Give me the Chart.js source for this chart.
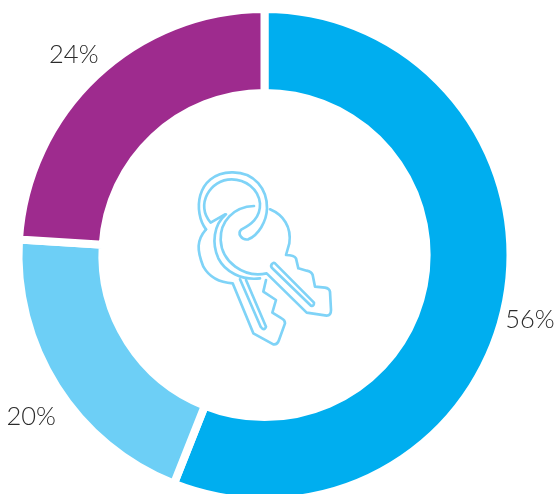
<!DOCTYPE html>
<html>
<head>
<meta charset="utf-8">
<title>Keys</title>
<script src="https://cdn.jsdelivr.net/npm/chart.js@4"></script>
<style>
    html, body { margin: 0; padding: 0; background: #fff; overflow: hidden; }
    #wrap { position: relative; width: 557px; height: 494px; overflow: hidden; }
    #chart { position: absolute; left: 0; top: 0; }
    #keys { position: absolute; left: 170px; top: 150px; width: 180px; height: 210px; }
    #keys path { fill: none; stroke: #7fd3f7; stroke-width: 8; stroke-linejoin: round; stroke-linecap: round; }
</style>
</head>
<body>
<div id="wrap">
    <canvas id="chart" width="557" height="510"></canvas>
    <svg id="keys" viewBox="0 0 540 630">
        <!-- ring -->
        <path d="M108 238 C70 190 75 70 185 67 C255 65 292 120 291 175 C290 215 265 255 235 268 C215 272 200 250 215 238 C240 225 272 205 270 160 C265 115 225 88 185 88 C120 88 75 165 122 218 L165 193"/>
        <!-- rear key -->
        <path d="M108 238 C80 270 80 300 100 350 C120 385 150 398 188 400 L250 550 L310 583 Q322 585 327 570 L345 520 Q345 510 335 505 L307 488 L318 450 L280 425 L288 390"/>
        <path d="M210 388 L272 530 Q283 545 288 530 L228 390"/>
        <!-- front key -->
        <path d="M168 193 C130 225 125 280 145 325 C165 365 215 392 270 385"/>
        <path d="M252 168 C190 170 150 215 152 270 C155 335 220 385 290 370 L410 488 L470 497 Q483 497 483 480 L480 425 Q478 415 465 413 L435 410 L428 375 Q425 365 410 362 L385 355 L378 325 Q372 315 348 315 L358 280 C365 230 340 195 300 178"/>
        <path d="M305 343 Q300 350 310 358 L423 467 Q432 470 432 458 L315 340 Q310 336 305 343"/>
    </svg>
</div>
<script>
const categories = ['A', 'B', 'C'];
const shares = [56, 20, 24];
const sliceColors = ['#00aeef', '#6dcff6', '#9e2b8e'];
const percentLabels = ['56%', '20%', '24%'];
const labelOffsets = [[65, 27], [-61, 52], [-51, -51]];

// draws the percent text next to each slice
const outsideLabels = {
    id: 'outsideLabels',
    afterDatasetsDraw(chart) {
        const ctx = chart.ctx;
        ctx.save();
        ctx.font = '300 25.5px Lato';
        ctx.fillStyle = '#2b2b2b';
        ctx.textAlign = 'center';
        ctx.textBaseline = 'middle';
        chart.getDatasetMeta(0).data.forEach((arc, i) => {
            const pos = arc.tooltipPosition();
            ctx.fillText(percentLabels[i], pos.x + labelOffsets[i][0], pos.y + labelOffsets[i][1]);
        });
        ctx.restore();
    }
};

new Chart(document.getElementById('chart'), {
    type: 'doughnut',
    data: {
        labels: categories,
        datasets: [{
            data: shares,
            backgroundColor: sliceColors,
            borderColor: '#ffffff',
            borderWidth: 8
        }]
    },
    options: {
        responsive: false,
        animation: false,
        cutout: '65.9%',
        layout: { padding: { left: 0, right: 28, top: 5, bottom: 5 } },
        plugins: {
            legend: { display: false },
            tooltip: { enabled: false }
        }
    },
    plugins: [outsideLabels]
});
</script>
</body>
</html>
